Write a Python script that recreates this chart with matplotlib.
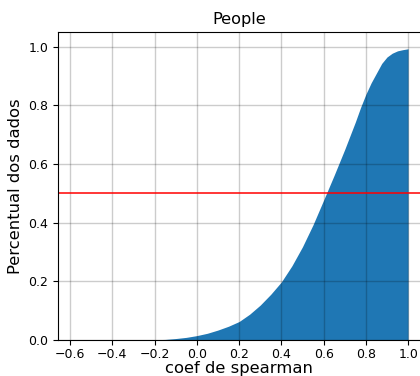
import numpy as np
import matplotlib
matplotlib.use('Agg')
import matplotlib.pyplot as plt

# coeficiente de spearman x percentual acumulado
coef = [-0.6, -0.55, -0.5, -0.45, -0.4, -0.35, -0.3, -0.25, -0.2, -0.15,
        -0.1, -0.05, 0.0, 0.05, 0.1, 0.15, 0.2, 0.25, 0.3, 0.35,
        0.4, 0.45, 0.5, 0.55, 0.6, 0.65, 0.7, 0.75, 0.775, 0.8, 0.825, 0.85,
        0.875, 0.9, 0.925, 0.95, 0.975, 1.0]
perc = [0.0, 0.0, 0.0, 0.0, 0.0, 0.0, 0.0, 0.0, 0.001, 0.002,
        0.005, 0.009, 0.015, 0.023, 0.034, 0.047, 0.063, 0.088, 0.119, 0.156,
        0.198, 0.253, 0.318, 0.393, 0.477, 0.562, 0.65, 0.743, 0.793, 0.838, 0.877, 0.91,
        0.943, 0.965, 0.978, 0.986, 0.99, 0.993]

fig = plt.figure(figsize=(4.2, 3.76), dpi=100)
ax = fig.add_axes([0.1381, 0.0957, 0.8638, 0.819])

ax.fill_between(coef, perc, color='#1f77b4', lw=0)
ax.axhline(0.5, color='red', lw=1.1)

ax.set_xlim(-0.657, 1.06)
ax.set_ylim(0, 1.05)
ax.set_xticks(np.arange(-0.6, 1.01, 0.2))
ax.set_yticks(np.arange(0, 1.01, 0.2))
ax.tick_params(labelsize=9)
ax.tick_params(axis='x', pad=2.5)
ax.grid(True, color='k', alpha=0.2, lw=1)

ax.set_title('People', fontsize=11.6)
ax.set_xlabel('coef de spearman', fontsize=11.8, labelpad=0)
ax.set_ylabel('Percentual dos dados', fontsize=11.8)

fig.savefig('out.png', dpi=100)
